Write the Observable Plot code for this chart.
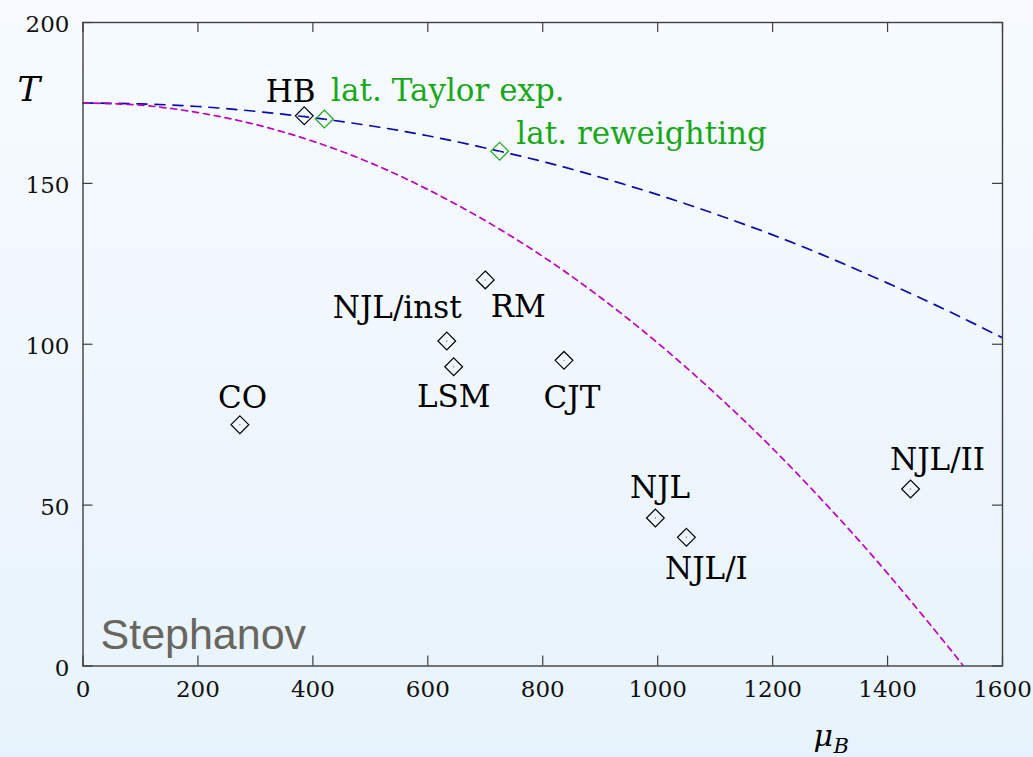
<!DOCTYPE html>
<html>
<head>
<meta charset="utf-8">
<script src="https://cdn.jsdelivr.net/npm/d3@7"></script>
<script src="https://cdn.jsdelivr.net/npm/@observablehq/plot@0.6"></script>
<style>
  html, body { margin: 0; padding: 0; }
  body {
    width: 1033px; height: 757px; overflow: hidden;
    background: linear-gradient(to bottom, #f7fbff 0%, #eef6fd 60%, #e7f3fc 100%);
  }
  #chart svg { display: block; }
</style>
</head>
<body>
<div id="chart"></div>
<script>
// Critical point estimates in the (mu_B, T) plane
const pointNames = ["HB", "lat. Taylor exp.", "lat. reweighting", "RM", "NJL/inst", "LSM", "CJT", "CO", "NJL", "NJL/I", "NJL/II"];
const pointMu    = [385, 420, 725, 700, 633, 645, 837, 273, 996, 1050, 1440];
const pointT     = [171, 170, 160, 120, 101, 93, 95, 75, 46, 40, 55];
const pointKind  = ["model", "lattice", "lattice", "model", "model", "model", "model", "model", "model", "model", "model"];

// Crossover / transition curves
const blueMu = [0, 100, 200, 300, 400, 500, 600, 700, 800, 900, 1000, 1100, 1200, 1300, 1400, 1500, 1600];
const blueT  = [175, 174.7, 173.9, 172.4, 170.4, 167.9, 164.8, 161, 156.8, 151.9, 146.5, 140.5, 134, 126.8, 119, 110.8, 102];
const magentaMu = [0, 100, 200, 300, 400, 500, 600, 700, 800, 900, 1000, 1100, 1200, 1300, 1400, 1500, 1532];
const magentaT  = [175, 174.3, 172, 168.3, 163.1, 156.4, 148.1, 138.4, 127.3, 114.6, 100.4, 84.7, 67.6, 48.9, 28.8, 7.2, 0];

// Axis ticks
const xTicks = [0, 200, 400, 600, 800, 1000, 1200, 1400, 1600];
const yTicks = [0, 50, 100, 150, 200];

const points = pointNames.map((name, i) => ({name, mu: pointMu[i], T: pointT[i], kind: pointKind[i]}));
const blue = blueMu.map((mu, i) => ({mu, T: blueT[i]}));
const magenta = magentaMu.map((mu, i) => ({mu, T: magentaT[i]}));

const W = 1033, H = 757;
const margin = {top: 22, right: 31, bottom: 91.5, left: 82.5};
const innerW = W - margin.left - margin.right;
const innerH = H - margin.top - margin.bottom;

const serif = "DejaVu Serif";
const axisColor = "#3f3f3f";
const green = "#19a819";
const colorOf = k => k === "lattice" ? green : "#000";

// label placement relative to each marker (pixels; dy is to the baseline)
const labelLayout = {
  "HB":               {dx: -13.6, dy: -14.3, anchor: "middle"},
  "lat. Taylor exp.": {dx: 6.7,   dy: -17.6, anchor: "start"},
  "lat. reweighting": {dx: 16.7,  dy: -7.4,  anchor: "start"},
  "RM":               {dx: 33,    dy: 37.4,  anchor: "middle"},
  "NJL/inst":         {dx: -49.6, dy: -23.3, anchor: "middle"},
  "LSM":              {dx: 0,     dy: 40.7,  anchor: "middle"},
  "CJT":              {dx: 8,     dy: 47.4,  anchor: "middle"},
  "CO":               {dx: 2.7,   dy: -16.7, anchor: "middle"},
  "NJL":              {dx: 4.7,   dy: -20,   anchor: "middle"},
  "NJL/I":            {dx: 20,    dy: 41.7,  anchor: "middle"},
  "NJL/II":           {dx: 27,    dy: -19.3, anchor: "middle"}
};

const labelMarks = points.map(p => {
  const L = labelLayout[p.name];
  return Plot.text([p], {
    x: "mu", y: "T", text: "name",
    dx: L.dx, dy: L.dy, textAnchor: L.anchor, lineAnchor: "bottom",
    fill: colorOf(p.kind), fontSize: 31, fontFamily: serif
  });
});

const chart = Plot.plot({
  width: W,
  height: H,
  marginTop: margin.top,
  marginRight: margin.right,
  marginBottom: margin.bottom,
  marginLeft: margin.left,
  style: {background: "transparent", fontFamily: serif, color: "#111"},
  x: {domain: [0, 1600]},
  y: {domain: [0, 200]},
  marks: [
    // phase boundary curves
    Plot.line(blue, {x: "mu", y: "T", curve: "natural", stroke: "#0a0ab0", strokeWidth: 1.7, strokeDasharray: "10,8", clip: true}),
    Plot.line(magenta, {x: "mu", y: "T", curve: "natural", stroke: "#c000c0", strokeWidth: 1.7, strokeDasharray: "6,5", clip: true}),

    // inward ticks on all four sides, then the box
    Plot.tickX(xTicks, {x: d => d, insetTop: innerH - 10, stroke: axisColor, strokeWidth: 1.2}),
    Plot.tickX(xTicks, {x: d => d, insetBottom: innerH - 10, stroke: axisColor, strokeWidth: 1.2}),
    Plot.tickY(yTicks, {y: d => d, insetRight: innerW - 10, stroke: axisColor, strokeWidth: 1.2}),
    Plot.tickY(yTicks, {y: d => d, insetLeft: innerW - 10, stroke: axisColor, strokeWidth: 1.2}),
    Plot.frame({stroke: axisColor, strokeWidth: 1.4}),

    // tick labels
    Plot.axisX({ticks: xTicks, tickFormat: d => String(d), tickSize: 0, tickPadding: 15, fontSize: 23, fontFamily: serif, label: null, fill: "#111"}),
    Plot.axisY({ticks: yTicks, tickFormat: d => String(d), tickSize: 0, tickPadding: 13.5, dy: 2.5, fontSize: 23, fontFamily: serif, label: null, fill: "#111"}),

    // markers with a centre dot
    Plot.dot(points, {x: "mu", y: "T", symbol: "diamond2", r: 8, stroke: d => colorOf(d.kind), strokeWidth: 1.2, fill: "none"}),
    Plot.dot(points, {x: "mu", y: "T", r: 0.7, fill: "#777", stroke: "none"}),

    ...labelMarks,

    // axis titles
    Plot.text(["T"], {frameAnchor: "top-left", dx: -65.5, dy: 78, textAnchor: "start", lineAnchor: "bottom",
      fontSize: 34, fontStyle: "italic", fontFamily: serif, fill: "#000"}),
    Plot.text(["μ"], {frameAnchor: "bottom", dx: 813 - (margin.left + innerW / 2), dy: 79.5, textAnchor: "start", lineAnchor: "bottom",
      fontSize: 30, fontStyle: "italic", fontFamily: serif, fill: "#000"}),
    Plot.text(["B"], {frameAnchor: "bottom", dx: 833 - (margin.left + innerW / 2), dy: 86.5, textAnchor: "start", lineAnchor: "bottom",
      fontSize: 21, fontStyle: "italic", fontFamily: serif, fill: "#000"}),

    // watermark
    Plot.text(["Stephanov"], {frameAnchor: "bottom-left", dx: 17.5, dy: -17.2, textAnchor: "start", lineAnchor: "bottom",
      fontSize: 43, fontFamily: "Liberation Sans", fill: "#68665e"})
  ]
});

document.getElementById("chart").appendChild(chart);
</script>
</body>
</html>
